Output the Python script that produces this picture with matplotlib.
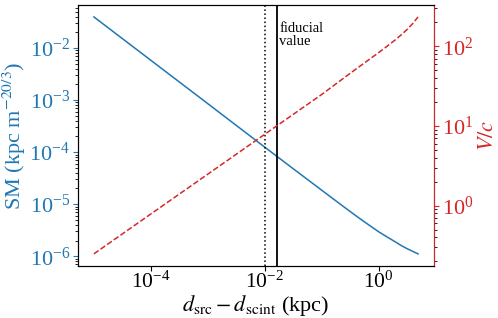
import numpy as np
import matplotlib
matplotlib.use("Agg")
import matplotlib.pyplot as plt
from matplotlib.ticker import NullLocator

plt.rcParams['font.family'] = ['Liberation Serif', 'DejaVu Serif']
plt.rcParams['mathtext.fontset'] = 'stix'

# d_src - d_scint (kpc)
dist = [1e-5, 1e-4, 1e-3, 1e-2, 3.16e-2, 0.1, 0.316, 0.562, 1.0,
        1.41, 2.0, 2.51, 3.16, 3.98, 4.95]
# scattering measure (kpc m^-20/3)
sm = [3.96e-2, 5.82e-3, 8.55e-4, 1.25e-4, 4.81e-5, 1.86e-5, 7.24e-6, 4.59e-6,
      2.96e-6, 2.35e-6, 1.87e-6, 1.60e-6, 1.40e-6, 1.24e-6, 1.11e-6]
# V/c
vc = [0.248, 0.785, 2.48, 7.85, 13.96, 24.8, 45.7, 61.7, 83.2,
      100, 121.6, 139.6, 162.2, 192.8, 234]

d_lower = 0.01
d_fid = 0.0162

blue = '#1f77b4'
red = '#d62728'

fig = plt.figure(figsize=(4.98, 3.18), dpi=100)
ax = fig.add_axes([0.156, 0.1645, 0.716, 0.8195])

ax.plot(dist, sm, color=blue, lw=1.1)
ax.set_xscale('log')
ax.set_yscale('log')
ax.set_xticks([1e-4, 1e-2, 1])
ax.xaxis.set_minor_locator(NullLocator())
ax.axvline(d_lower, color='k', ls=':', lw=1.1)
ax.axvline(d_fid, color='k', ls='-', lw=1.3)
ax.text(d_fid * 1.12, 0.935, 'fiducial\nvalue', transform=ax.get_xaxis_transform(),
        va='top', ha='left', fontsize=10.5, linespacing=1.0)

ax.set_xlabel(r'$d_{\rm src} - d_{\rm scint}$ (kpc)', fontsize=16)
ax.xaxis.set_label_coords(0.5, -0.105)
ax.set_ylabel(r'SM (kpc m$^{-20/3}$)', fontsize=16, color=blue)
ax.yaxis.set_label_coords(-0.14, 0.5)
ax.tick_params(axis='y', colors=blue, labelsize=16, pad=2)
ax.tick_params(axis='x', labelsize=15.5, pad=1)

ax2 = ax.twinx()
ax2.plot(dist, vc, color=red, ls='--', lw=1.1)
ax2.set_yscale('log')
ax2.set_ylabel(r'$V/c$', fontsize=16, color=red)
ax2.yaxis.set_label_coords(1.125, 0.5)
ax2.tick_params(axis='y', colors=red, labelsize=16, pad=2)
ax2.spines['right'].set_color(red)

fig.savefig('out.png', dpi=100)
